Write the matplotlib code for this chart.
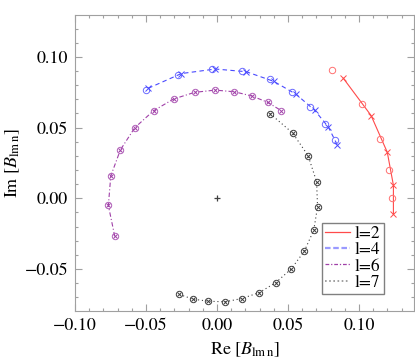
import numpy as np
import matplotlib
matplotlib.use('Agg')
import matplotlib.pyplot as plt
from matplotlib.lines import Line2D
from matplotlib.ticker import MultipleLocator

plt.rcParams['font.family'] = ['STIXGeneral', 'Liberation Serif', 'DejaVu Serif']
plt.rcParams['mathtext.fontset'] = 'stix'

# l=2 (red)
l2_o_re = [0.0812, 0.1021, 0.1150, 0.1211, 0.1232]
l2_o_im = [0.0907, 0.0665, 0.0422, 0.0198, 0.0000]
l2_x_re = [0.0889, 0.1085, 0.1199, 0.1242, 0.1242]
l2_x_im = [0.0849, 0.0585, 0.0325, 0.0092, -0.0113]

# l=4 (blue)
l4_o_re = [-0.0502, -0.0273, -0.0035, 0.0178, 0.0370, 0.0530, 0.0657, 0.0758, 0.0829]
l4_o_im = [0.0766, 0.0870, 0.0917, 0.0900, 0.0840, 0.0753, 0.0646, 0.0525, 0.0410]
l4_x_re = [-0.0484, -0.0251, -0.0012, 0.0206, 0.0399, 0.0556, 0.0688, 0.0784, 0.0847]
l4_x_im = [0.0778, 0.0882, 0.0914, 0.0895, 0.0827, 0.0736, 0.0622, 0.0504, 0.0377]

# l=6 (purple)
l6_re = [-0.0720, -0.0765, -0.0748, -0.0680, -0.0579, -0.0447, -0.0306, -0.0158,
         -0.0013, 0.0123, 0.0246, 0.0356, 0.0452]
l6_im = [-0.0269, -0.0051, 0.0158, 0.0343, 0.0499, 0.0619, 0.0702, 0.0749,
         0.0765, 0.0753, 0.0723, 0.0679, 0.0620]

# l=7 (black)
l7_re = [0.0373, 0.0532, 0.0641, 0.0701, 0.0708, 0.0681, 0.0614, 0.0523,
         0.0414, 0.0297, 0.0174, 0.0056, -0.0061, -0.0169, -0.0265]
l7_im = [0.0599, 0.0462, 0.0302, 0.0118, -0.0060, -0.0226, -0.0375, -0.0499,
         -0.0596, -0.0667, -0.0709, -0.0732, -0.0728, -0.0713, -0.0680]

labels = ['l=2', 'l=4', 'l=6', 'l=7']

red = '#ff4a4a'
blue = '#4a4aff'
purple = '#a040a8'
black = '#404040'
frame = '#a0a0a0'

fig = plt.figure(figsize=(4.15, 3.64), dpi=100)
ax = fig.add_axes([0.1807, 0.1456, 0.8169, 0.8132])

ms = 4.6
mx = 4.0
lw = 0.8

# l=2
ax.plot(l2_x_re, l2_x_im, '-', color=red, lw=lw)
ax.plot(l2_o_re, l2_o_im, 'o', mfc='none', mec='#ff7070', ms=ms, mew=0.7)
ax.plot(l2_x_re, l2_x_im, 'x', color=red, ms=mx, mew=0.7)

# l=4
ax.plot(l4_x_re, l4_x_im, '--', color=blue, lw=lw, dashes=(4, 3))
ax.plot(l4_o_re, l4_o_im, 'o', mfc='none', mec='#6a6aff', ms=ms, mew=0.7)
ax.plot(l4_x_re, l4_x_im, 'x', color=blue, ms=mx, mew=0.7)

# l=6
ax.plot(l6_re, l6_im, '-.', color=purple, lw=lw, dashes=(4, 2, 1, 2))
ax.plot(l6_re, l6_im, 'o', mfc='none', mec='#b060b8', ms=ms, mew=0.7)
ax.plot(l6_re, l6_im, 'x', color=purple, ms=mx * 0.75, mew=0.7)

# l=7
ax.plot(l7_re, l7_im, ':', color=black, lw=lw, dashes=(1, 2.5))
ax.plot(l7_re, l7_im, 'o', mfc='none', mec=black, ms=ms, mew=0.7)
ax.plot(l7_re, l7_im, 'x', color=black, ms=mx * 0.75, mew=0.7)

# centre
ax.plot([0], [0], '+', color=black, ms=4.5, mew=0.9)

ax.set_xlim(-0.10, 0.1387)
ax.set_ylim(-0.0797, 0.1296)

ax.xaxis.set_major_locator(MultipleLocator(0.05))
ax.yaxis.set_major_locator(MultipleLocator(0.05))
ax.xaxis.set_minor_locator(MultipleLocator(0.01))
ax.yaxis.set_minor_locator(MultipleLocator(0.01))
fmt = plt.FuncFormatter(lambda v, p: ('%.2f' % v).replace('-', '\u2212'))
ax.xaxis.set_major_formatter(fmt)
ax.yaxis.set_major_formatter(fmt)

ax.tick_params(which='both', direction='in', top=True, right=True, color=frame, labelsize=13, width=0.8)
ax.tick_params(which='major', length=5, pad=5)
ax.tick_params(which='minor', length=2.5)
for s in ax.spines.values():
    s.set_color(frame)
    s.set_linewidth(0.8)

ax.set_xlabel(r'Re $[B_{\mathrm{lm\,n}}]$', fontsize=13, labelpad=5)
ax.set_ylabel(r'Im $[B_{\mathrm{lm\,n}}]$', fontsize=13, labelpad=2)

handles = [
    Line2D([], [], color=red, lw=0.9, ls='-'),
    Line2D([], [], color='#9a9aff', lw=1.6, dashes=(2.5, 1.2)),
    Line2D([], [], color=purple, lw=0.9, dashes=(3, 1.5, 1, 1.5)),
    Line2D([], [], color='#909090', lw=1.2, dashes=(1, 1.5)),
]
leg = ax.legend(handles, labels, loc='lower right', bbox_to_anchor=(0.911, 0.057),
                fontsize=12.5, frameon=True, fancybox=False, framealpha=1,
                handlelength=1.4, handletextpad=0.3, labelspacing=0.0,
                borderpad=0.2, borderaxespad=0)
leg.get_frame().set_edgecolor('#808080')
leg.get_frame().set_linewidth(1.0)

fig.savefig('out.png', dpi=100)
